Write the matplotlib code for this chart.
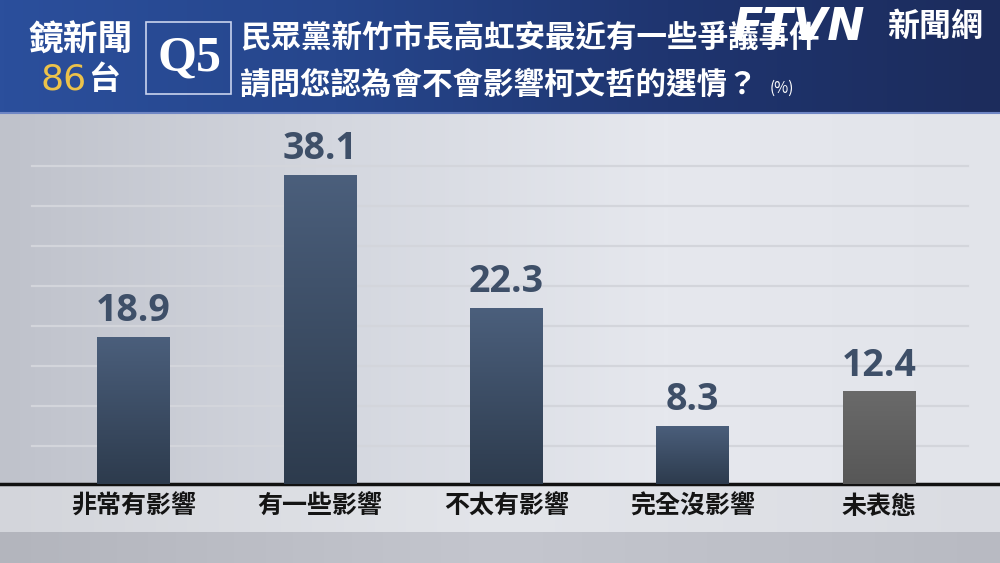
import numpy as np
import matplotlib
matplotlib.use("Agg")
import matplotlib.pyplot as plt
from matplotlib.patches import Rectangle
from matplotlib.colors import LinearSegmentedColormap

plt.rcParams['font.family'] = ['Noto Sans CJK TC', 'DejaVu Sans']

# data
categories = ["非常有影響", "有一些影響", "不太有影響", "完全沒影響", "未表態"]
values = [18.9, 38.1, 22.3, 8.3, 12.4]
value_labels = ["18.9", "38.1", "22.3", "8.3", "12.4"]
title_line1 = "民眾黨新竹市長高虹安最近有一些爭議事件"
title_line2 = "請問您認為會不會影響柯文哲的選情？"

fig = plt.figure(figsize=(10, 5.63), dpi=100)

# background layer in pixel coords
bg = fig.add_axes([0, 0, 1, 1])
bg.set_xlim(0, 1000)
bg.set_ylim(563, 0)
bg.axis("off")

# grey panel gradient (darker left, lighter right)
panel_cmap = LinearSegmentedColormap.from_list("panel", ["#bfc2cb", "#d4d7df", "#e6e8ee", "#e2e4ea"])
grad = np.linspace(0, 1, 256).reshape(1, -1)
bg.imshow(grad, cmap=panel_cmap, extent=[0, 1000, 484, 112], aspect="auto")
# strip behind the category labels, then darker floor
strip_cmap = LinearSegmentedColormap.from_list("strip", ["#d3d5db", "#e3e5ea", "#dadce2"])
bg.imshow(grad, cmap=strip_cmap, extent=[0, 1000, 532, 484], aspect="auto")
floor_cmap = LinearSegmentedColormap.from_list("floor", ["#b3b5bd", "#c4c6ce", "#b8bac2"])
bg.imshow(grad, cmap=floor_cmap, extent=[0, 1000, 563, 532], aspect="auto")

# decorative guide lines
for k in range(8):
    bg.plot([32, 968], [166 + 40 * k] * 2, color="#d3d5db", lw=1.6)

# header band
head_cmap = LinearSegmentedColormap.from_list("head", ["#2b4f9c", "#26468c", "#1f3570", "#1c2c5c"])
bg.imshow(grad, cmap=head_cmap, extent=[0, 1000, 112, 0], aspect="auto")
bg.plot([0, 1000], [113, 113], color="#6f86c4", lw=1.5)

# header texts
bg.text(81, 40, "鏡新聞", color="white", fontsize=25, fontweight="bold", ha="center", va="center")
bg.text(64, 80, "86", color="#ecc24a", fontsize=26, ha="center", va="center", family="DejaVu Sans")
bg.text(104, 80, "台", color="white", fontsize=23, fontweight="bold", ha="center", va="center")
bg.add_patch(Rectangle((146, 22), 85, 72, fill=False, ec="#c9d3ee", lw=1.2))
bg.text(189, 59, "Q5", color="white", fontsize=36, fontweight="bold", ha="center", va="center",
        family="Liberation Serif")
bg.text(240, 38, title_line1, color="white", fontsize=22, fontweight="bold", ha="left", va="center")
bg.text(240, 85, title_line2, color="white", fontsize=22, fontweight="bold", ha="left", va="center")
bg.text(770, 88, "(%)", color="white", fontsize=11, ha="left", va="center")
bg.text(732, 27, "FTVN", color="white", fontsize=32, fontweight="bold", style="italic",
        ha="left", va="center", family="DejaVu Sans", zorder=6)
bg.text(887, 27, "新聞網", color="white", fontsize=23, fontweight="bold", ha="left", va="center")

# chart axes: bars start at 0, the part below the base line is cut off
ax = fig.add_axes([0.032, 79 / 563, 0.936, 364 / 563])
ax.set_facecolor("none")
x = np.arange(len(categories))
ax.set_xlim(-0.545, 4.477)
ax.set_ylim(1.41, 1.41 + 364 / 8.42)
ax.axis("off")

colors = ["#34445a"] * 4 + ["#5e5e5e"]
bars = ax.bar(x, values, width=0.39, color=colors, zorder=2)

# vertical shading on bars
y0 = ax.get_ylim()[0]
shade = np.linspace(0, 1, 256).reshape(-1, 1)
for i, b in enumerate(bars):
    if i == 4:
        cm = LinearSegmentedColormap.from_list("g", ["#6a6a6a", "#575757"])
    else:
        cm = LinearSegmentedColormap.from_list("b", ["#4b5f7c", "#2d3b4d"])
    im = ax.imshow(shade, cmap=cm, aspect="auto", zorder=3,
                   extent=[b.get_x(), b.get_x() + b.get_width(), y0, b.get_height()])
    im.set_clip_path(b)

for xi, v, lab in zip(x, values, value_labels):
    ax.text(xi, v + 0.8, lab, ha="center", va="bottom", fontsize=27, fontweight="bold",
            color="#3e4f68", family="Open Sans", zorder=4)

# base line and category labels
bg.plot([0, 1000], [484, 484], color="#111111", lw=2.5, zorder=5)
for xi, cat in zip(x, categories):
    px = 133.4 + xi * 186.4
    bg.text(px, 507, cat, ha="center", va="center", fontsize=18, fontweight="bold", color="#141414")

fig.savefig("out.png", dpi=100)
